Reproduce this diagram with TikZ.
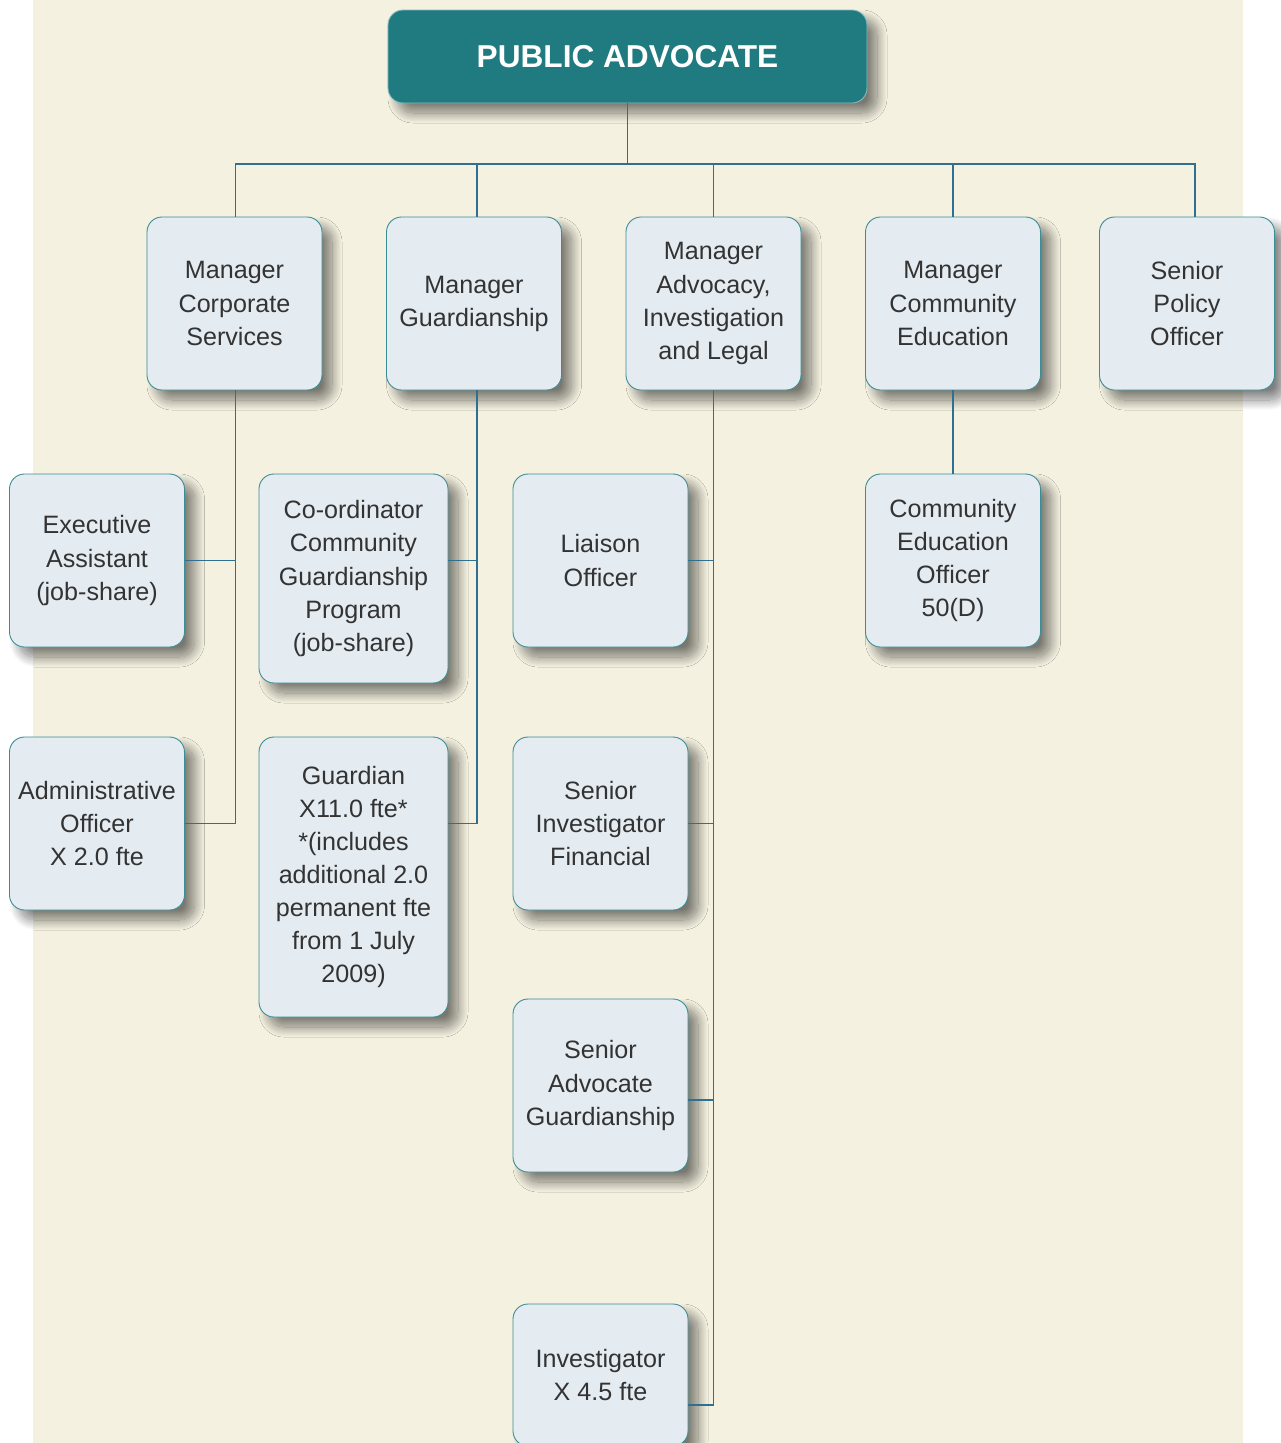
\documentclass[tikz,border=0pt]{standalone}
\usepackage{fontspec}
\setmainfont{Liberation Sans}
\usetikzlibrary{shadows.blur}

\definecolor{cream}{HTML}{F4F1E0}
\definecolor{headfill}{HTML}{1F7B80}
\definecolor{boxfill}{HTML}{E4EBF1}
\definecolor{boxline}{HTML}{3A8C95}
\definecolor{linkblue}{HTML}{2E6F92}
\definecolor{txtgray}{HTML}{333333}

\tikzset{
  role/.style={draw=boxline, fill=boxfill, rounded corners=3mm, line width=0.5pt,
    minimum width=35mm, minimum height=34.6mm, inner sep=1pt, align=center,
    text=txtgray, font=\fontsize{14.3}{18.8}\selectfont,
    blur shadow={shadow xshift=2mm, shadow yshift=-2mm, shadow blur radius=2mm,
      shadow blur steps=20, shadow opacity=50}},
  head/.style={draw=boxline!60, fill=headfill, rounded corners=3mm, line width=0.5pt,
    minimum width=95.8mm, minimum height=18.6mm, text=white,
    font=\bfseries\fontsize{18}{22}\selectfont,
    blur shadow={shadow xshift=2mm, shadow yshift=-2mm, shadow blur radius=2mm,
      shadow blur steps=20, shadow opacity=50}},
  link/.style={draw=linkblue, line width=0.8pt},
}

\begin{document}
\begin{tikzpicture}[x=0.2mm,y=-0.2mm]
\useasboundingbox (0,0) rectangle (1281,1443);
\clip (0,0) rectangle (1281,1443);
\fill[cream] (33,0) rectangle (1243,1443);

% head
\node[head] (pa) at (627.5,56.5) {PUBLIC ADVOCATE};

% managers
\node[role] (mcs) at (234.5,303.5) {Manager\\Corporate\\Services};
\node[role] (mg) at (474,303.5) {Manager\\Guardianship};
\node[role] (mail) at (713.5,303.5) {Manager\\Advocacy,\\Investigation\\and Legal};
\node[role] (mce) at (953,303.5) {Manager\\Community\\Education};
\node[role] (spo) at (1187,303.5) {Senior\\Policy\\Officer};

% staff
\node[role] (ea) at (97,560.5) {Executive\\Assistant\\(job-share)};
\node[role] (ao) at (97,823.5) {Administrative\\Officer\\X 2.0 fte};
\node[role, minimum width=37.8mm, minimum height=41.8mm] (ccgp) at (353.5,578.5)
  {Co-ordinator\\Community\\Guardianship\\Program\\(job-share)};
\node[role, minimum width=37.8mm, minimum height=56mm] (gdn) at (353.5,877)
  {Guardian\\X11.0 fte*\\*(includes\\additional 2.0\\permanent fte\\from 1 July\\2009)};
\node[role] (lo) at (600.5,560.5) {Liaison\\Officer};
\node[role] (sif) at (600.5,823.5) {Senior\\Investigator\\Financial};
\node[role] (sag) at (600.5,1085.5) {Senior\\Advocate\\Guardianship};
\node[role, minimum height=28.4mm] (inv) at (600.5,1375) {Investigator\\X 4.5 fte};
\node[role] (ceo) at (953,560.5) {Community\\Education\\Officer\\50(D)};

% lines
\coordinate (bus) at (627.5,164);
\draw[link] (pa.south) -- (bus);
\foreach \m/\dx in {mcs/0.2mm,mg/0.6mm,mail/0mm,mce/0mm,spo/1.6mm}
  \draw[link] (bus) -| ([xshift=\dx]\m.north);
\draw[link] ([xshift=0.2mm]mcs.south) |- (ea.east);
\draw[link] ([xshift=0.2mm]mcs.south) |- (ao.east);
\draw[link] ([xshift=0.6mm]mg.south) |- (ccgp.east |- ea.east);
\draw[link] ([xshift=0.6mm]mg.south) |- (gdn.east |- ao.east);
\draw[link] (mail.south) |- (lo.east);
\draw[link] (mail.south) |- (sif.east);
\draw[link] (mail.south) |- ([yshift=-2.9mm]sag.east);
\draw[link] (mail.south) |- ([yshift=-6mm]inv.east);
\draw[link] (mce.south) -- (ceo.north);
\end{tikzpicture}
\end{document}
